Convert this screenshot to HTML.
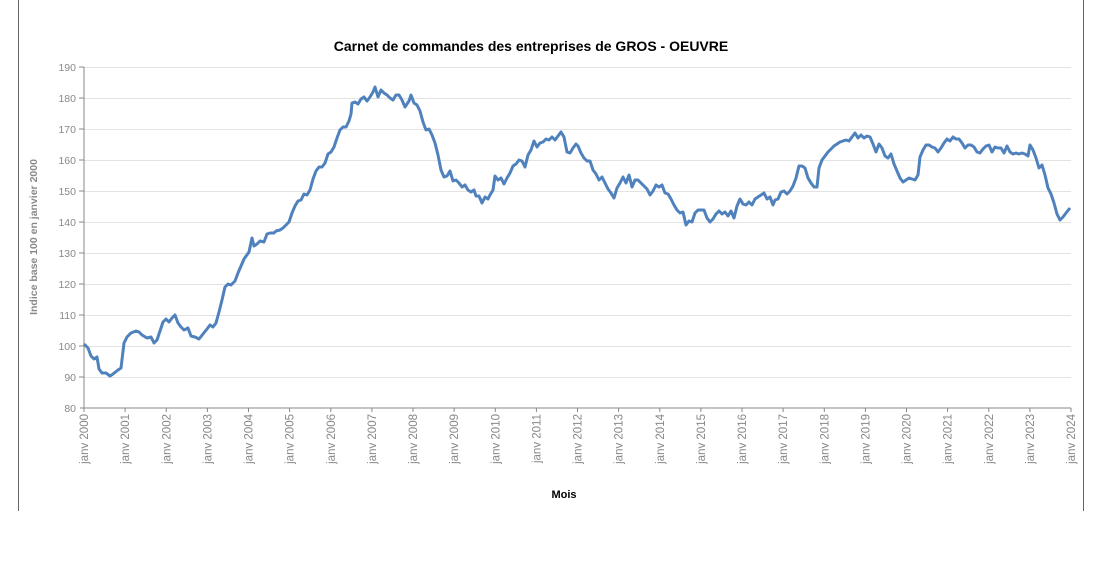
<!DOCTYPE html>
<html><head><meta charset="utf-8"><style>body{margin:0;background:#fff}</style></head><body>
<svg width="1107" height="557" xmlns="http://www.w3.org/2000/svg" font-family="Liberation Sans, sans-serif">
<rect width="1107" height="557" fill="#fff"/>
<line x1="18.5" y1="0" x2="18.5" y2="511" stroke="#666"/>
<line x1="1083.5" y1="0" x2="1083.5" y2="511" stroke="#666"/>
<text x="531" y="51" text-anchor="middle" font-size="14" font-weight="bold" fill="#000">Carnet de commandes des entreprises de GROS - OEUVRE</text>
<g stroke="#e3e3e3" stroke-width="1">
<line x1="84" y1="67.5" x2="1071" y2="67.5"/><line x1="84" y1="98.5" x2="1071" y2="98.5"/><line x1="84" y1="129.5" x2="1071" y2="129.5"/><line x1="84" y1="160.5" x2="1071" y2="160.5"/><line x1="84" y1="191.5" x2="1071" y2="191.5"/><line x1="84" y1="222.5" x2="1071" y2="222.5"/><line x1="84" y1="253.5" x2="1071" y2="253.5"/><line x1="84" y1="284.5" x2="1071" y2="284.5"/><line x1="84" y1="315.5" x2="1071" y2="315.5"/><line x1="84" y1="346.5" x2="1071" y2="346.5"/><line x1="84" y1="377.5" x2="1071" y2="377.5"/>
</g>
<line x1="84" y1="67" x2="84" y2="408" stroke="#888"/>
<line x1="80" y1="408" x2="1071" y2="408" stroke="#888"/>
<g font-size="10.5" fill="#888" text-anchor="end">
<text x="76" y="71">190</text><text x="76" y="102">180</text><text x="76" y="133">170</text><text x="76" y="164">160</text><text x="76" y="195">150</text><text x="76" y="226">140</text><text x="76" y="257">130</text><text x="76" y="288">120</text><text x="76" y="319">110</text><text x="76" y="350">100</text><text x="76" y="381">90</text><text x="76" y="412">80</text>
</g>
<g stroke="#888">
<line x1="79" y1="67" x2="84" y2="67"/><line x1="79" y1="98" x2="84" y2="98"/><line x1="79" y1="129" x2="84" y2="129"/><line x1="79" y1="160" x2="84" y2="160"/><line x1="79" y1="191" x2="84" y2="191"/><line x1="79" y1="222" x2="84" y2="222"/><line x1="79" y1="253" x2="84" y2="253"/><line x1="79" y1="284" x2="84" y2="284"/><line x1="79" y1="315" x2="84" y2="315"/><line x1="79" y1="346" x2="84" y2="346"/><line x1="79" y1="377" x2="84" y2="377"/>
</g>
<text transform="translate(37,237) rotate(-90)" text-anchor="middle" font-size="10.5" font-weight="bold" fill="#888">Indice base 100 en janvier 2000</text>
<g stroke="#888">
<line x1="84" y1="408" x2="84" y2="412"/><line x1="125.1" y1="408" x2="125.1" y2="412"/><line x1="166.3" y1="408" x2="166.3" y2="412"/><line x1="207.4" y1="408" x2="207.4" y2="412"/><line x1="248.5" y1="408" x2="248.5" y2="412"/><line x1="289.6" y1="408" x2="289.6" y2="412"/><line x1="330.8" y1="408" x2="330.8" y2="412"/><line x1="371.9" y1="408" x2="371.9" y2="412"/><line x1="413" y1="408" x2="413" y2="412"/><line x1="454.1" y1="408" x2="454.1" y2="412"/><line x1="495.3" y1="408" x2="495.3" y2="412"/><line x1="536.4" y1="408" x2="536.4" y2="412"/><line x1="577.5" y1="408" x2="577.5" y2="412"/><line x1="618.6" y1="408" x2="618.6" y2="412"/><line x1="659.8" y1="408" x2="659.8" y2="412"/><line x1="700.9" y1="408" x2="700.9" y2="412"/><line x1="742" y1="408" x2="742" y2="412"/><line x1="783.1" y1="408" x2="783.1" y2="412"/><line x1="824.3" y1="408" x2="824.3" y2="412"/><line x1="865.4" y1="408" x2="865.4" y2="412"/><line x1="906.5" y1="408" x2="906.5" y2="412"/><line x1="947.6" y1="408" x2="947.6" y2="412"/><line x1="988.8" y1="408" x2="988.8" y2="412"/><line x1="1029.9" y1="408" x2="1029.9" y2="412"/><line x1="1071" y1="408" x2="1071" y2="412"/>
</g>
<g font-size="11.5" fill="#888" text-anchor="end">
<text transform="translate(88,414) rotate(-90)">janv 2000</text>
<text transform="translate(129.1,414) rotate(-90)">janv 2001</text>
<text transform="translate(170.3,414) rotate(-90)">janv 2002</text>
<text transform="translate(211.4,414) rotate(-90)">janv 2003</text>
<text transform="translate(252.5,414) rotate(-90)">janv 2004</text>
<text transform="translate(293.6,414) rotate(-90)">janv 2005</text>
<text transform="translate(334.8,414) rotate(-90)">janv 2006</text>
<text transform="translate(375.9,414) rotate(-90)">janv 2007</text>
<text transform="translate(417,414) rotate(-90)">janv 2008</text>
<text transform="translate(458.1,414) rotate(-90)">janv 2009</text>
<text transform="translate(499.3,414) rotate(-90)">janv 2010</text>
<text transform="translate(540.4,414) rotate(-90)">janv 2011</text>
<text transform="translate(581.5,414) rotate(-90)">janv 2012</text>
<text transform="translate(622.6,414) rotate(-90)">janv 2013</text>
<text transform="translate(663.8,414) rotate(-90)">janv 2014</text>
<text transform="translate(704.9,414) rotate(-90)">janv 2015</text>
<text transform="translate(746,414) rotate(-90)">janv 2016</text>
<text transform="translate(787.1,414) rotate(-90)">janv 2017</text>
<text transform="translate(828.3,414) rotate(-90)">janv 2018</text>
<text transform="translate(869.4,414) rotate(-90)">janv 2019</text>
<text transform="translate(910.5,414) rotate(-90)">janv 2020</text>
<text transform="translate(951.6,414) rotate(-90)">janv 2021</text>
<text transform="translate(992.8,414) rotate(-90)">janv 2022</text>
<text transform="translate(1033.9,414) rotate(-90)">janv 2023</text>
<text transform="translate(1075,414) rotate(-90)">janv 2024</text>
</g>
<text x="564" y="498" text-anchor="middle" font-size="11" font-weight="bold" fill="#000">Mois</text>
<polyline fill="none" stroke="#4f81bd" stroke-width="3" stroke-linejoin="round" points="84,344 88,348 91,356 94,359 97,357 99,369 102,373 106,373 110,376 113,374 118,370 121,368 124,343 127,337 131,333 136,331 139,332 142,335 147,338 151,337 154,343 157,340 160,331 163,322 166,319 169,322 172,318 175,315 178,323 181,327 184,330 188,328 191,336 195,337 199,339 203,334 207,329 210,325 213,327 216,323 219,312 222,300 225,287 228,284 231,285 235,281 238,273 241,266 244,259 249,252 252,238 254,246 257,244 260,241 264,242 267,234 270,233 274,233 276,231 280,230 283,228 286,225 289,222 292,213 295,206 298,201 301,200 304,194 307,195 310,190 313,179 316,171 319,167 322,167 325,163 328,154 331,152 334,147 337,138 340,130 343,127 346,127 349,121 351,114 352,103 355,102 358,104 361,99 364,97 367,101 370,97 373,92 375,87 378,97 381,90 384,93 387,95 390,98 393,100 396,95 399,95 402,100 405,107 409,101 411,95 414,103 417,105 420,111 423,122 426,130 429,129 432,135 435,143 438,155 441,170 444,177 447,176 450,171 453,181 456,180 459,183 462,187 465,185 468,190 471,192 474,190 476,196 479,196 482,203 485,197 488,199 490,195 493,190 495,176 498,180 501,178 504,184 507,178 510,173 513,166 516,164 519,160 522,161 525,167 528,155 531,150 534,141 537,147 540,143 543,142 546,139 549,140 552,137 555,140 558,136 561,132 564,137 567,152 570,153 573,148 576,144 578,146 581,153 584,158 587,161 590,161 593,170 596,174 599,180 602,177 605,183 608,189 611,193 614,198 617,188 620,183 623,177 626,183 629,175 632,187 635,180 638,180 641,183 644,186 647,189 650,195 653,191 656,185 659,187 662,185 665,193 668,194 671,199 674,205 677,210 680,213 683,212 686,225 689,221 692,222 695,213 698,210 701,210 704,210 707,218 710,222 713,219 716,214 719,211 722,214 725,212 728,216 731,211 734,218 737,206 740,199 743,204 746,205 749,202 752,205 755,199 758,197 761,195 764,193 767,199 770,197 773,205 775,200 778,199 781,192 784,191 787,194 790,191 793,186 796,178 799,166 802,166 805,168 808,178 811,183 814,187 817,187 819,168 822,160 825,156 828,152 831,149 834,146 837,144 840,142 843,141 846,140 849,141 852,137 855,133 858,138 861,135 864,138 867,136 870,137 873,144 876,152 879,144 882,148 885,156 888,158 891,154 894,164 897,171 900,178 903,182 906,180 909,178 912,179 915,180 918,175 920,157 923,150 926,145 929,145 932,147 935,148 938,152 941,148 944,143 947,139 950,141 953,137 956,139 959,139 962,143 965,148 968,145 971,145 974,147 977,152 980,153 983,149 986,146 989,145 992,152 995,147 998,148 1001,148 1004,153 1007,146 1010,152 1013,154 1016,153 1019,154 1022,153 1025,154 1028,156 1030,145 1033,150 1036,158 1039,168 1042,165 1045,175 1048,188 1051,194 1054,203 1057,214 1060,220 1063,217 1066,213 1070,208"/>
</svg>
</body></html>
